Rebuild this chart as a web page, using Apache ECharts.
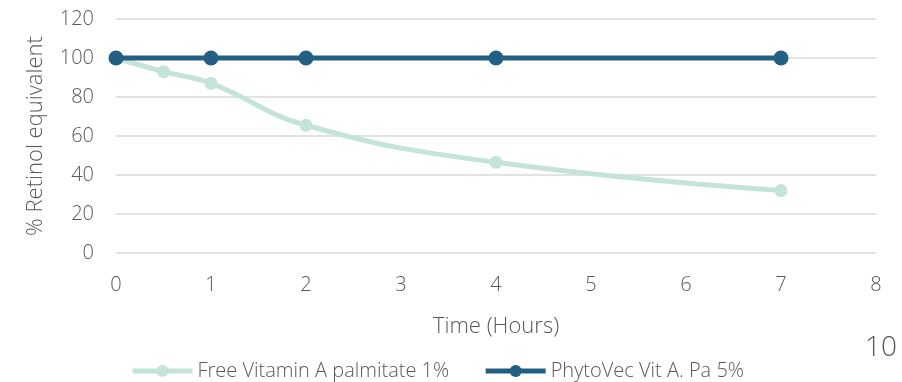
<!DOCTYPE html>
<html>
<head>
<meta charset="utf-8">
<script src="https://cdn.jsdelivr.net/npm/echarts@6/dist/echarts.min.js"></script>
<style>
  html, body { margin: 0; padding: 0; background: #fff; }
  #chart { width: 902px; height: 382px; }
</style>
</head>
<body>
<div id="chart"></div>
<script>
// Retinol equivalent remaining over time
const freeHours = [0, 0.5, 1, 2, 4, 7];
const freeValues = [100, 93, 87, 65.5, 46.5, 32];
const phytoHours = [0, 1, 2, 4, 7];
const phytoValues = [100, 100, 100, 100, 100];
const xTicks = [0, 1, 2, 3, 4, 5, 6, 7, 8];
const yTicks = [0, 20, 40, 60, 80, 100, 120];

const seriesNames = ['Free Vitamin A palmitate 1%', 'PhytoVec Vit A. Pa 5%'];
const colors = ['#c4e4d8', '#235f82'];
const font = '"Open Sans", "Noto Sans", sans-serif';
const textColor = '#595959';

const chart = echarts.init(document.getElementById('chart'));
chart.setOption({
  animation: false,
  grid: { left: 116, right: 26, top: 19, bottom: 129 },
  xAxis: {
    type: 'value',
    min: xTicks[0],
    max: xTicks[xTicks.length - 1],
    interval: 1,
    name: 'Time (Hours)',
    nameLocation: 'middle',
    nameGap: 63,
    nameTextStyle: { color: textColor, fontSize: 22, fontFamily: font, fontWeight: 300 },
    axisLine: { show: false },
    axisTick: { show: false },
    splitLine: { show: false },
    axisLabel: { color: textColor, fontSize: 20, fontFamily: font, fontWeight: 300, margin: 22 }
  },
  yAxis: {
    type: 'value',
    min: yTicks[0],
    max: yTicks[yTicks.length - 1],
    interval: 20,
    name: '% Retinol equivalent',
    nameLocation: 'middle',
    nameGap: 69,
    nameTextStyle: { color: textColor, fontSize: 22, fontFamily: font, fontWeight: 300 },
    axisLine: { show: false },
    axisTick: { show: false },
    splitLine: { lineStyle: { color: '#d9d9d9', width: 1.5 } },
    axisLabel: { color: textColor, fontSize: 20, fontFamily: font, fontWeight: 300, margin: 22 }
  },
  legend: {
    top: 356,
    left: 125,
    itemGap: 34,
    itemWidth: 60,
    itemHeight: 15,
    lineStyle: { width: 5 },
    textStyle: { color: textColor, fontSize: 20, fontFamily: font, fontWeight: 300 },
    data: seriesNames
  },
  graphic: [{
    type: 'text',
    right: 5,
    top: 334,
    style: { text: '10', fill: textColor, font: '300 28px ' + font }
  }],
  series: [
    {
      name: seriesNames[0],
      type: 'line',
      smooth: 0.45,
      data: freeHours.map((h, i) => [h, freeValues[i]]),
      symbol: 'circle',
      symbolSize: 13,
      lineStyle: { color: colors[0], width: 5 },
      itemStyle: { color: colors[0] },
      z: 2
    },
    {
      name: seriesNames[1],
      type: 'line',
      data: phytoHours.map((h, i) => [h, phytoValues[i]]),
      symbol: 'circle',
      symbolSize: 15,
      lineStyle: { color: colors[1], width: 5 },
      itemStyle: { color: colors[1] },
      z: 3
    }
  ]
});
</script>
</body>
</html>
